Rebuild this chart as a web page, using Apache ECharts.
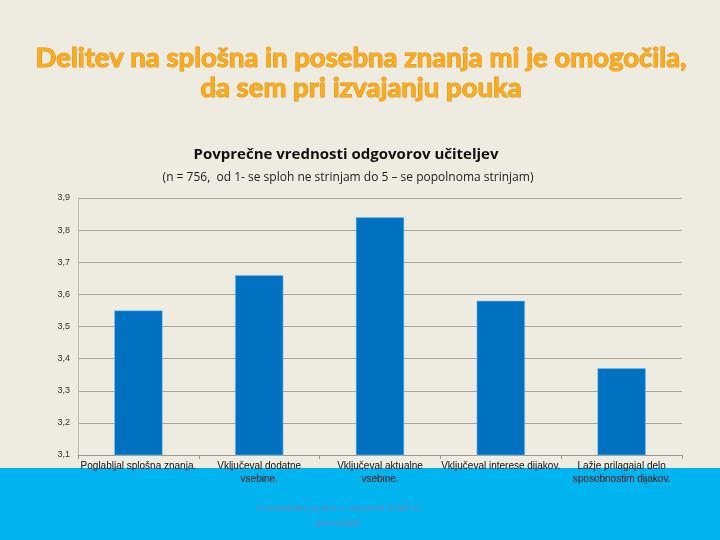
<!DOCTYPE html>
<html><head><meta charset="utf-8">
<script src="https://cdn.jsdelivr.net/npm/echarts@6/dist/echarts.min.js"></script>
<style>html,body{margin:0;padding:0;}#c{width:720px;height:540px;}</style>
</head><body><div id="c"></div>
<script>
var categories = ["Poglabljal splošna znanja.", "Vključeval dodatne\nvsebine.", "Vključeval aktualne\nvsebine.", "Vključeval interese dijakov.", "Lažje prilagajal delo\nsposobnostim dijakov."];
var values = [3.55, 3.66, 3.84, 3.58, 3.37];
var yTicks = {min: 3.1, max: 3.9, interval: 0.1};

var chart = echarts.init(document.getElementById('c'));
chart.setOption({
  backgroundColor: '#EEEBE1',
  animation: false,
  graphic: [
    {type: 'rect', z: -10, shape: {x: 0, y: 468, width: 720, height: 72}, style: {fill: '#00B4F0'}},
    {type: 'text', x: 361, y: 43, z: 10, style: {text: 'Delitev na splošna in posebna znanja mi je omogočila,\nda sem pri izvajanju pouka', font: 'bold 27.5px Lato, sans-serif', fill: '#F9AC1E', stroke: '#E38E18', lineWidth: 1, textAlign: 'center', lineHeight: 30}},
    {type: 'text', x: 346, y: 147, z: 10, style: {text: 'Povprečne vrednosti odgovorov učiteljev', font: 'bold 15px "Open Sans", sans-serif', fill: '#111', textAlign: 'center'}},
    {type: 'text', x: 348, y: 172, z: 10, style: {text: '(n = 756,  od 1- se sploh ne strinjam do 5 – se popolnoma strinjam)', font: '12px "Open Sans", sans-serif', fill: '#222', textAlign: 'center'}},
    {type: 'text', x: 338, y: 501, z: 10, style: {text: 'Posodobitev pouka v osnovnih šolah in\ngimnazijah', font: '9.5px "Liberation Sans", sans-serif', fill: '#6A86B8', textAlign: 'center', lineHeight: 15}}
  ],
  grid: {left: 78, right: 38, top: 198, bottom: 85},
  xAxis: {
    type: 'category', data: categories,
    axisLine: {lineStyle: {color: '#9A9A95'}},
    axisTick: {show: true, lineStyle: {color: '#9A9A95'}, length: 4},
    axisLabel: {interval: 0, color: '#111', fontFamily: 'Liberation Sans', fontSize: 10, margin: 5, lineHeight: 13}
  },
  yAxis: {
    type: 'value', min: yTicks.min, max: yTicks.max, interval: yTicks.interval,
    axisLine: {show: true, lineStyle: {color: '#BDBAB0'}},
    axisTick: {show: false},
    splitLine: {lineStyle: {color: '#A7A59C', width: 1}},
    axisLabel: {color: '#333', fontFamily: 'Liberation Sans', fontSize: 9, margin: 8,
      formatter: function (v) { return v.toFixed(1).replace('.', ','); }}
  },
  series: [{
    type: 'bar', data: values, barWidth: '40%',
    itemStyle: {color: '#0070C0', borderColor: '#7CC6F0', borderWidth: 0.6}
  }]
});
</script>
</body></html>
